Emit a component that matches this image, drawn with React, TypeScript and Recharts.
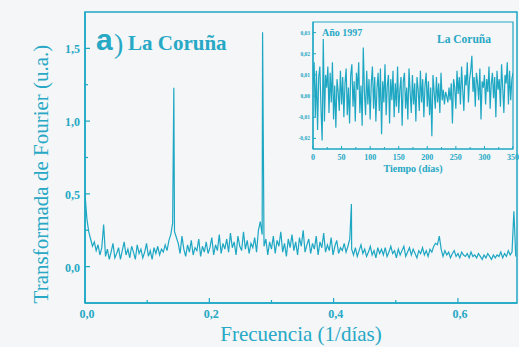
import React from 'react';
import { LineChart, Line, XAxis, YAxis, ReferenceArea } from 'recharts';

const TEAL = '#1ea7c3';
const INK = '#27a8c5';
const SERIF = '"Liberation Serif", "Times New Roman", serif';

// Fourier spectrum, sampled every 0.003 day^-1
const freqStep = 0.003;
const spectrumAmp = [
  0.50, 0.33, 0.24, 0.19, 0.14, 0.17, 0.11, 0.15, 0.08, 0.13,
  0.29, 0.07, 0.12, 0.05, 0.10, 0.16, 0.06, 0.09, 0.13, 0.05,
  0.11, 0.17, 0.08, 0.12, 0.06, 0.14, 0.10, 0.05, 0.15, 0.09,
  0.12, 0.06, 0.10, 0.16, 0.07, 0.11, 0.05, 0.13, 0.09, 0.14,
  0.08, 0.12, 0.10, 0.15, 0.11, 0.18, 0.22, 0.30, 0.24, 0.20,
  0.16, 0.09, 0.21, 0.12, 0.07, 0.15, 0.10, 0.18, 0.08, 0.13,
  0.11, 0.19, 0.07, 0.14, 0.10, 0.17, 0.09, 0.13, 0.20, 0.08,
  0.15, 0.11, 0.22, 0.09, 0.16, 0.12, 0.19, 0.10, 0.23, 0.13,
  0.17, 0.08, 0.21, 0.14, 0.11, 0.24, 0.12, 0.18, 0.09, 0.16,
  0.13, 0.20, 0.10, 0.25, 0.31, 0.22, 0.14, 0.19, 0.08, 0.17,
  0.12, 0.21, 0.09, 0.18, 0.14, 0.24, 0.10, 0.16, 0.07, 0.19,
  0.13, 0.22, 0.11, 0.17, 0.08, 0.20, 0.14, 0.25, 0.10, 0.15,
  0.19, 0.09, 0.16, 0.12, 0.21, 0.08, 0.17, 0.13, 0.23, 0.10,
  0.15, 0.11, 0.20, 0.08, 0.14, 0.18, 0.09, 0.13, 0.11, 0.16,
  0.10, 0.14, 0.19, 0.12, 0.08, 0.13, 0.07, 0.11, 0.15, 0.09,
  0.12, 0.07, 0.10, 0.14, 0.08, 0.11, 0.06, 0.13, 0.09, 0.12,
  0.08, 0.13, 0.07, 0.10, 0.14, 0.09, 0.11, 0.06, 0.12, 0.08,
  0.11, 0.14, 0.07, 0.10, 0.13, 0.08, 0.12, 0.09, 0.06, 0.11,
  0.09, 0.13, 0.08, 0.11, 0.07, 0.12, 0.10, 0.14, 0.16, 0.15,
  0.21, 0.12, 0.07, 0.11, 0.08, 0.10, 0.06, 0.09, 0.11, 0.07,
  0.09, 0.06, 0.10, 0.08, 0.07, 0.09, 0.06, 0.10, 0.07, 0.08,
  0.06, 0.09, 0.07, 0.05, 0.08, 0.06, 0.09, 0.07, 0.05, 0.08,
  0.06, 0.08, 0.07, 0.10, 0.06, 0.09, 0.07, 0.11, 0.08, 0.10,
  0.38, 0.07,
];
// weekly harmonics: 1/7, 2/7 and 3/7 day^-1
const weeklyFreq = [0.1429, 0.2857, 0.4286];
const weeklyAmp = [1.23, 1.61, 0.43];

const freqMajorTicks = [0, 0.2, 0.4, 0.6];
const freqMinorTicks = [0.1, 0.3, 0.5];
const ampMajorTicks = [0, 0.5, 1.0, 1.5];
const ampMinorTicks = [0.25, 0.75, 1.25];

// relative fluctuation of patients, 1997, every second day
const dayStep = 2;
const fluctuation = [
  0.006, 0.016, -0.010, 0.012, -0.016, 0.009, 0.014, -0.006, -0.021, 0.027,
  -0.012, 0.010, 0.004, 0.014, -0.008, 0.011, -0.003, 0.016, -0.011, 0.005,
  -0.015, 0.008, 0.002, -0.007, 0.012, -0.004, 0.009, -0.010, 0.006, 0.013,
  -0.009, 0.004, -0.013, 0.010, 0.015, -0.005, 0.007, -0.012, 0.011, 0.003,
  0.016, -0.008, 0.005, -0.014, 0.023, 0.002, -0.009, 0.012, -0.004, 0.008,
  -0.011, 0.006, 0.014, -0.006, 0.009, -0.012, 0.004, 0.011, -0.007, 0.013,
  -0.018, 0.007, -0.003, 0.015, -0.009, 0.005, 0.010, -0.013, 0.008, -0.002,
  0.012, -0.010, 0.006, -0.005, 0.014, -0.008, 0.003, 0.009, -0.014, 0.007,
  0.011, -0.006, 0.004, -0.011, 0.013, 0.002, -0.008, 0.010, -0.004, 0.006,
  -0.012, 0.009, 0.003, -0.007, 0.012, -0.003, 0.008, -0.010, 0.005, 0.011,
  -0.005, 0.007, -0.009, 0.004, -0.019, 0.010, 0.002, -0.006, 0.009, -0.003,
  0.006, -0.008, 0.011, -0.002, 0.003, -0.004, 0.002, 0.000, -0.003, 0.004,
  -0.002, 0.006, -0.013, 0.008, 0.004, -0.006, 0.012, 0.001, 0.009, -0.004,
  0.014, 0.003, -0.007, 0.010, 0.005, 0.016, -0.003, 0.008, 0.012, 0.019,
  0.002, 0.009, -0.005, 0.011, 0.006, -0.002, 0.013, -0.011, 0.007, 0.004,
  0.010, -0.004, 0.008, 0.002, 0.014, -0.006, 0.006, 0.011, -0.001, 0.009,
  -0.010, 0.012, 0.003, 0.008, -0.005, 0.015, 0.004, -0.008, 0.010, 0.006,
  0.016, -0.004, 0.012, -0.002, 0.008, 0.011,
];
const dayMajorTicks = [0, 50, 100, 150, 200, 250, 300, 350];
const dayMinorTicks = [25, 75, 125, 175, 225, 275, 325];
const fluctTicks = [-0.02, -0.01, 0, 0.01, 0.02, 0.03];

const spectrum = [
  ...spectrumAmp.map((a, i) => ({ f: i * freqStep, a })),
  ...weeklyFreq.map((f, i) => ({ f, a: weeklyAmp[i] })),
].sort((p, q) => p.f - q.f);

const series = fluctuation.map((v, i) => ({ day: i * dayStep, v }));

const isIn = (list: number[], v: number) => list.some((t) => Math.abs(t - v) < 1e-9);
const comma = (v: number, digits: number) => v.toFixed(digits).replace('.', ',');

const FreqTick = (props: any) => {
  const { x, y, payload } = props;
  const major = isIn(freqMajorTicks, payload.value);
  return (
    <g>
      <line x1={x} y1={y} x2={x} y2={y - (major ? 5 : 3)} stroke={TEAL} strokeWidth={1.2} />
      {major && (
        <text x={x + 2} y={y + 15} textAnchor="middle" fontSize={12} fontWeight="bold" fontFamily={SERIF} fill={INK}>
          {comma(payload.value, 1)}
        </text>
      )}
    </g>
  );
};

const AmpTick = (props: any) => {
  const { x, y, payload } = props;
  const major = isIn(ampMajorTicks, payload.value);
  return (
    <g>
      <line x1={x} y1={y} x2={x + (major ? 5 : 3)} y2={y} stroke={TEAL} strokeWidth={1.2} />
      {major && (
        <text x={x - 5} y={y + 5} textAnchor="end" fontSize={12} fontWeight="bold" fontFamily={SERIF} fill={INK}>
          {comma(payload.value, 1)}
        </text>
      )}
    </g>
  );
};

const DayTick = (props: any) => {
  const { x, y, payload } = props;
  const major = isIn(dayMajorTicks, payload.value);
  return (
    <g>
      <line x1={x} y1={y} x2={x} y2={y - (major ? 3 : 2)} stroke={TEAL} strokeWidth={1} />
      {major && (
        <text x={x} y={y + 10.5} textAnchor="middle" fontSize={8} fontWeight="bold" fontFamily={SERIF} fill={INK}>
          {payload.value}
        </text>
      )}
    </g>
  );
};

const FluctTick = (props: any) => {
  const { x, y, payload } = props;
  return (
    <g>
      <line x1={x} y1={y} x2={x + 3} y2={y} stroke={TEAL} strokeWidth={1} />
      <text x={x - 3} y={y + 2} textAnchor="end" fontSize={5.5} fontWeight="bold" fontFamily={SERIF} fill={INK}>
        {comma(payload.value, 2)}
      </text>
    </g>
  );
};

const FourierTitle = () => (
  <text x={48} y={174} transform="rotate(-90 48 174)" textAnchor="middle" fontSize={21} fontFamily={SERIF} fill={INK}>
    Transformada de Fourier (u.a.)
  </text>
);

const FluctTitle = () => (
  <g fontSize={7} fontStyle="italic" fontFamily={SERIF} fill={INK} textAnchor="middle">
    <text x={288} y={84} transform="rotate(-90 288 84)">Fluctuación relativa</text>
    <text x={298} y={84} transform="rotate(-90 298 84)">del nº de pacientes</text>
  </g>
);

export default function App() {
  return (
    <div
      style={{
        position: 'absolute',
        left: 0,
        top: 0,
        width: 519,
        height: 347,
        overflow: 'hidden',
        background: '#f4f6f8',
      }}
    >
      <div style={{ position: 'absolute', left: 0, top: 0 }}>
        <LineChart width={519} height={347} data={spectrum} margin={{ top: 12, right: 2, bottom: 0, left: 0 }}>
          <XAxis
            dataKey="f"
            type="number"
            domain={[0, 0.695]}
            allowDataOverflow
            ticks={[...freqMajorTicks, ...freqMinorTicks].sort((a, b) => a - b)}
            interval={0}
            height={44}
            tickSize={0}
            tickMargin={0}
            tickLine={false}
            axisLine={{ stroke: TEAL, strokeWidth: 1.5 }}
            tick={<FreqTick />}
            label={{
              value: 'Frecuencia (1/días)',
              position: 'insideBottom',
              offset: 6,
              fill: INK,
              fontSize: 21,
              fontFamily: SERIF,
            }}
          />
          <YAxis
            type="number"
            domain={[-0.25, 1.75]}
            allowDataOverflow
            ticks={[...ampMajorTicks, ...ampMinorTicks].sort((a, b) => a - b)}
            interval={0}
            width={85}
            tickSize={0}
            tickMargin={0}
            tickLine={false}
            axisLine={{ stroke: TEAL, strokeWidth: 1.5 }}
            tick={<AmpTick />}
            label={{ content: FourierTitle }}
          />
          <ReferenceArea x1={0} x2={0.695} y1={-0.25} y2={1.75} fill="none" stroke={TEAL} strokeWidth={1.5} />
          <Line type="linear" dataKey="a" stroke={TEAL} strokeWidth={1.2} dot={false} isAnimationActive={false} />
        </LineChart>
      </div>

      <div style={{ position: 'absolute', left: 270, top: 14 }}>
        <LineChart width={250} height={170} data={series} margin={{ top: 8, right: 7, bottom: 0, left: 0 }}>
          <XAxis
            dataKey="day"
            type="number"
            domain={[0, 350]}
            allowDataOverflow
            ticks={[...dayMajorTicks, ...dayMinorTicks].sort((a, b) => a - b)}
            interval={0}
            height={35}
            tickSize={0}
            tickMargin={0}
            tickLine={false}
            axisLine={{ stroke: TEAL, strokeWidth: 1.2 }}
            tick={<DayTick />}
            label={{
              value: 'Tiempo (días)',
              position: 'insideBottom',
              offset: 12,
              fill: INK,
              fontSize: 10,
              fontWeight: 'bold',
              fontFamily: SERIF,
            }}
          />
          <YAxis
            type="number"
            domain={[-0.025, 0.035]}
            allowDataOverflow
            ticks={fluctTicks}
            interval={0}
            width={43}
            tickSize={0}
            tickMargin={0}
            tickLine={false}
            axisLine={{ stroke: TEAL, strokeWidth: 1.2 }}
            tick={<FluctTick />}
            label={{ content: FluctTitle }}
          />
          <ReferenceArea x1={0} x2={350} y1={-0.025} y2={0.035} fill="none" stroke={TEAL} strokeWidth={1.2} />
          <Line type="linear" dataKey="v" stroke={TEAL} strokeWidth={1.2} dot={false} isAnimationActive={false} />
        </LineChart>
      </div>

      <svg width={519} height={347} style={{ position: 'absolute', left: 0, top: 0, pointerEvents: 'none' }}>
        <text x={96} y={50} fontSize={30} fontWeight="bold" fontFamily='"Liberation Sans", Arial, sans-serif' fill={INK}>
          a
        </text>
        <text x={114} y={53} fontSize={28} fontFamily={SERIF} fill={INK}>
          )
        </text>
        <text x={128} y={50} fontSize={21} fontWeight="bold" fontFamily={SERIF} fill={INK}>
          La Coruña
        </text>
        <text x={322} y={36} fontSize={10} fontWeight="bold" fontFamily={SERIF} fill={INK}>
          Año 1997
        </text>
        <text x={437} y={43} fontSize={11.5} fontWeight="bold" fontFamily={SERIF} fill={INK}>
          La Coruña
        </text>
      </svg>
    </div>
  );
}
